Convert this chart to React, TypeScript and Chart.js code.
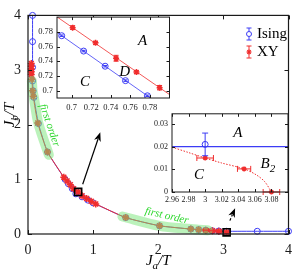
import React, { useEffect, useRef } from "react";
import { Chart, registerables } from "chart.js";

Chart.register(...registerables);

const SERIF = "'Liberation Serif', 'DejaVu Serif', serif";
const BLUE = "rgb(60,60,245)";
const RED = "rgb(240,45,45)";
const BAND = "rgba(120,230,120,0.5)";
const GREEN_TXT = "rgb(45,215,45)";
const INK = "#1a1a1a";

// ---------------- main panel data ----------------
const mainTicks = [0, 1, 2, 3, 4];

const isingJa = [0.07, 0.07, 0.07, 0.07, 0.08, 0.09, 0.16, 0.30, 0.57, 0.62, 0.68, 0.735, 0.83, 0.92, 1.00, 1.50, 2.02, 2.50, 2.62, 2.73, 2.83, 2.93, 3.05, 3.52, 4.00];
const isingJb = [4.00, 3.52, 3.05, 2.80, 2.62, 2.50, 2.02, 1.50, 1.00, 0.92, 0.83, 0.735, 0.68, 0.62, 0.57, 0.30, 0.15, 0.09, 0.08, 0.07, 0.06, 0.055, 0.05, 0.05, 0.05];

const xyJa = [0.05, 0.05, 0.05, 0.05, 0.05, 0.06, 0.07, 0.08, 0.15, 0.30, 0.55, 0.60, 0.65, 0.70, 0.77, 0.83, 0.90, 0.97, 1.04, 1.50, 2.02, 2.50, 2.62, 2.73, 2.83, 2.93, 3.05];
const xyJb = [3.12, 3.07, 3.02, 2.97, 2.92, 2.83, 2.62, 2.52, 2.03, 1.50, 1.04, 0.97, 0.90, 0.83, 0.77, 0.70, 0.65, 0.60, 0.55, 0.30, 0.15, 0.09, 0.08, 0.07, 0.06, 0.05, 0.03];
const xyErrX = [0, 0, 0, 0, 0, 0, 0, 0, 0, 0, 0, 0, 0, 0, 0, 0, 0, 0, 0, 0, 0, 0, 0, 0.04, 0.04, 0.04, 0];

const upperBandJa = [0.06, 0.07, 0.09, 0.16, 0.32];
const upperBandJb = [2.80, 2.62, 2.50, 2.02, 1.45];
const lowerBandJa = [1.45, 2.02, 2.50, 2.62, 2.76];
const lowerBandJb = [0.32, 0.15, 0.09, 0.08, 0.07];

const squareJa = [0.77, 3.05];
const squareJb = [0.77, 0.03];

// ---------------- inset 1 data ----------------
const in1Ticks = [0.7, 0.72, 0.74, 0.76, 0.78];
const in1IsingJa = [0.6898, 0.7122, 0.7342, 0.7550, 0.7774];
const in1IsingJb = [0.7747, 0.7538, 0.7332, 0.7136, 0.6930];
const in1IsingErr = [0.001, 0.001, 0.001, 0.001, 0.001];
const in1XyJa = [0.7010, 0.7244, 0.7454, 0.7662, 0.7899];
const in1XyJb = [0.7856, 0.7650, 0.7440, 0.7253, 0.7040];
const in1XyErr = [0.0025, 0.002, 0.004, 0.002, 0.003];
const in1IsingFitJa = [0.685, 0.80];
const in1IsingFitJb = [0.7792, 0.6719];
const in1XyFitJa = [0.685, 0.80];
const in1XyFitJb = [0.8003, 0.6947];

// ---------------- inset 2 data ----------------
const in2XTicks = [2.96, 2.98, 3.0, 3.02, 3.04, 3.06, 3.08];
const in2YTicks = [0, 0.01, 0.02, 0.03];
const in2IsingJa = [3.0];
const in2IsingJb = [0.021];
const in2IsingErr = [0.005];
const in2IsingLineJa = [2.96, 3.1];
const in2IsingLineJb = [0.02, 0.02];
const in2XyJa = [3.0, 3.047, 3.08];
const in2XyJb = [0.015, 0.0102, 0.0];
const in2XyErrX = [0.01, 0.008, 0.01];
const in2XyCurveJa = [2.96, 2.98, 3.0, 3.02, 3.047, 3.062, 3.072, 3.08];
const in2XyCurveJb = [0.0198, 0.0174, 0.015, 0.0128, 0.0102, 0.0075, 0.0045, 0.0];

// ---------------- helpers ----------------
const fmt = (v: number) => String(Number(Number(v).toFixed(2)));
const pts = (xs: number[], ys: number[]) => xs.map((x, i) => ({ x, y: ys[i] }));

function line(ctx: CanvasRenderingContext2D, x1: number, y1: number, x2: number, y2: number) {
  ctx.beginPath();
  ctx.moveTo(x1, y1);
  ctx.lineTo(x2, y2);
  ctx.stroke();
}

function drawStar(ctx: CanvasRenderingContext2D, x: number, y: number, r: number) {
  for (let k = 0; k < 4; k++) {
    const a = (k * Math.PI) / 4;
    line(ctx, x - r * Math.cos(a), y - r * Math.sin(a), x + r * Math.cos(a), y + r * Math.sin(a));
  }
}

function drawSub(ctx: CanvasRenderingContext2D, x: number, y: number, base: string, sub: string, rest: string, size: number, align: "center" | "left" = "center") {
  const f1 = `italic ${size}px ${SERIF}`;
  const f2 = `italic ${Math.round(size * 0.7)}px ${SERIF}`;
  ctx.font = f1;
  const w1 = ctx.measureText(base).width;
  const w3 = ctx.measureText(rest).width;
  ctx.font = f2;
  const w2 = ctx.measureText(sub).width;
  let cx = align === "center" ? x - (w1 + w2 + w3) / 2 : x;
  ctx.textAlign = "left";
  ctx.textBaseline = "alphabetic";
  ctx.font = f1;
  ctx.fillText(base, cx, y);
  cx += w1;
  ctx.font = f2;
  ctx.fillText(sub, cx, y + size * 0.25);
  cx += w2;
  ctx.font = f1;
  ctx.fillText(rest, cx, y);
}

function arrow(ctx: CanvasRenderingContext2D, x1: number, y1: number, x2: number, y2: number, dashed: boolean) {
  ctx.save();
  ctx.strokeStyle = "#000";
  ctx.fillStyle = "#000";
  ctx.lineWidth = 1.2;
  const ang = Math.atan2(y2 - y1, x2 - x1);
  const hl = 9, hw = 3.5;
  const bx = x2 - hl * Math.cos(ang), by = y2 - hl * Math.sin(ang);
  if (dashed) ctx.setLineDash([2.5, 2]);
  line(ctx, x1, y1, bx + 2 * Math.cos(ang), by + 2 * Math.sin(ang));
  ctx.setLineDash([]);
  ctx.beginPath();
  ctx.moveTo(x2, y2);
  ctx.lineTo(bx - hw * Math.sin(ang), by + hw * Math.cos(ang));
  ctx.lineTo(bx + 2.5 * Math.cos(ang), by + 2.5 * Math.sin(ang));
  ctx.lineTo(bx + hw * Math.sin(ang), by - hw * Math.cos(ang));
  ctx.closePath();
  ctx.fill();
  ctx.restore();
}

function errorBars(chart: any) {
  const ctx = chart.ctx as CanvasRenderingContext2D;
  const xs = chart.scales.x, ys = chart.scales.y;
  chart.data.datasets.forEach((ds: any) => {
    if (!ds.errX && !ds.errY) return;
    ctx.save();
    ctx.strokeStyle = ds.errColor;
    ctx.lineWidth = 1;
    const cap = ds.capSize ?? 2.5;
    ds.data.forEach((p: any, j: number) => {
      const px = xs.getPixelForValue(p.x), py = ys.getPixelForValue(p.y);
      if (ds.errY && ds.errY[j]) {
        const y1 = ys.getPixelForValue(p.y - ds.errY[j]);
        const y2 = ys.getPixelForValue(p.y + ds.errY[j]);
        line(ctx, px, y1, px, y2);
        line(ctx, px - cap, y1, px + cap, y1);
        line(ctx, px - cap, y2, px + cap, y2);
      }
      if (ds.errX && ds.errX[j]) {
        const x1 = xs.getPixelForValue(p.x - ds.errX[j]);
        const x2 = xs.getPixelForValue(p.x + ds.errX[j]);
        line(ctx, x1, py, x2, py);
        line(ctx, x1, py - cap, x1, py + cap);
        line(ctx, x2, py - cap, x2, py + cap);
      }
    });
    ctx.restore();
  });
}

function makePlugin(tickLen: number, lw: number, extra: (chart: any) => void, whiteBg: boolean) {
  return {
    id: "framePlugin",
    beforeDraw(chart: any) {
      if (!whiteBg) return;
      const { left, top, right, bottom } = chart.chartArea;
      const ctx = chart.ctx;
      ctx.save();
      ctx.fillStyle = "#fff";
      ctx.fillRect(left, top, right - left, bottom - top);
      ctx.restore();
    },
    afterDatasetsDraw(chart: any) {
      errorBars(chart);
      const ctx = chart.ctx as CanvasRenderingContext2D;
      const { left, top, right, bottom } = chart.chartArea;
      ctx.save();
      ctx.strokeStyle = INK;
      ctx.lineWidth = lw;
      ctx.strokeRect(left, top, right - left, bottom - top);
      ctx.lineWidth = 1;
      chart.scales.x.ticks.forEach((t: any) => {
        const px = Math.round(chart.scales.x.getPixelForValue(t.value)) + 0.5;
        line(ctx, px, bottom, px, bottom - tickLen);
        line(ctx, px, top, px, top + tickLen);
      });
      chart.scales.y.ticks.forEach((t: any) => {
        const py = Math.round(chart.scales.y.getPixelForValue(t.value)) + 0.5;
        line(ctx, left, py, left + tickLen, py);
        line(ctx, right, py, right - tickLen, py);
      });
      ctx.restore();
      ctx.save();
      extra(chart);
      ctx.restore();
    },
  };
}

function axis(min: number, max: number, ticks: number[], size: number, padding: number, dim: "w" | "h", dimVal: number) {
  return {
    type: "linear" as const,
    min,
    max,
    grid: { display: false, drawTicks: false },
    border: { display: false },
    afterBuildTicks: (s: any) => {
      s.ticks = ticks.map((v) => ({ value: v }));
    },
    afterFit: (s: any) => {
      if (dim === "w") s.width = dimVal;
      else s.height = dimVal;
    },
    ticks: {
      autoSkip: false,
      maxRotation: 0,
      padding,
      color: INK,
      font: { family: SERIF, size },
      callback: (v: any) => fmt(v),
    },
  };
}

// ---------------- configs ----------------
function mainConfig(): any {
  const extra = (chart: any) => {
    const ctx = chart.ctx as CanvasRenderingContext2D;
    const xs = chart.scales.x, ys = chart.scales.y;
    const P = (x: number, y: number) => [xs.getPixelForValue(x), ys.getPixelForValue(y)];
    // axis titles
    ctx.fillStyle = "#000";
    drawSub(ctx, (chart.chartArea.left + chart.chartArea.right) / 2, 265, "J", "a", "/T", 15);
    ctx.save();
    ctx.translate(14, 115);
    ctx.rotate(-Math.PI / 2);
    drawSub(ctx, 0, 0, "J", "b", "/T", 15);
    ctx.restore();
    // "first order" labels
    ctx.fillStyle = GREEN_TXT;
    ctx.font = `italic 11px ${SERIF}`;
    ctx.textAlign = "center";
    ctx.textBaseline = "middle";
    const [u1, u2] = P(0.33, 1.99);
    ctx.save();
    ctx.translate(u1, u2);
    ctx.rotate((71 * Math.PI) / 180);
    ctx.fillText("first order", 0, 0);
    ctx.restore();
    const [l1, l2] = P(2.13, 0.33);
    ctx.save();
    ctx.translate(l1, l2);
    ctx.rotate((13 * Math.PI) / 180);
    ctx.fillText("first order", 0, 0);
    ctx.restore();
    // arrows
    const [a1, a2] = P(0.84, 0.91);
    const [b1, b2] = P(1.11, 1.86);
    arrow(ctx, a1, a2, b1, b2, false);
    const [c1, c2] = P(3.1, 0.245);
    const [d1, d2] = P(3.18, 0.47);
    arrow(ctx, c1, c2, d1, d2, true);
    // legend
    ctx.lineWidth = 1;
    ctx.strokeStyle = BLUE;
    const lx = 249;
    line(ctx, lx, 28, lx, 40);
    line(ctx, lx - 2.5, 28, lx + 2.5, 28);
    line(ctx, lx - 2.5, 40, lx + 2.5, 40);
    ctx.fillStyle = "#fff";
    ctx.beginPath();
    ctx.arc(lx, 34, 2.5, 0, Math.PI * 2);
    ctx.fill();
    ctx.stroke();
    ctx.strokeStyle = RED;
    line(ctx, lx, 46, lx, 58);
    line(ctx, lx - 2.5, 46, lx + 2.5, 46);
    line(ctx, lx - 2.5, 58, lx + 2.5, 58);
    ctx.lineWidth = 1.2;
    drawStar(ctx, lx, 52, 2.5);
    ctx.fillStyle = "#000";
    ctx.font = `15px ${SERIF}`;
    ctx.textAlign = "left";
    ctx.textBaseline = "middle";
    ctx.fillText("Ising", 257, 34);
    ctx.fillText("XY", 257, 52);
  };
  return {
    type: "scatter",
    data: {
      datasets: [
        { data: pts(upperBandJa, upperBandJb), showLine: true, borderColor: BAND, borderWidth: 10, borderCapStyle: "round", pointRadius: 0, tension: 0.3, order: 0, clip: false },
        { data: pts(lowerBandJa, lowerBandJb), showLine: true, borderColor: BAND, borderWidth: 10, borderCapStyle: "round", pointRadius: 0, tension: 0.3, order: 0, clip: false },
        { data: pts(squareJa, squareJb), showLine: false, pointStyle: "rect", pointRadius: 5, pointBorderWidth: 1.6, pointBorderColor: "#000", pointBackgroundColor: "rgba(0,0,0,0)", order: 1, clip: false },
        { data: pts(xyJa, xyJb), showLine: true, borderColor: RED, borderWidth: 1, tension: 0.15, pointStyle: "star", pointRadius: 3.5, pointBorderWidth: 1.5, pointBorderColor: RED, pointBackgroundColor: RED, errX: xyErrX, errColor: RED, capSize: 2, order: 2, clip: false },
        { data: pts(isingJa, isingJb), showLine: true, borderColor: BLUE, borderWidth: 1, tension: 0.15, pointStyle: "circle", pointRadius: 3, pointBorderWidth: 1, pointBorderColor: BLUE, pointBackgroundColor: "rgba(0,0,0,0)", order: 3, clip: false },
      ],
    },
    options: {
      responsive: false,
      animation: false,
      events: [],
      layout: { padding: { top: 5, right: 5, left: 0, bottom: 0 } },
      plugins: { legend: { display: false }, tooltip: { enabled: false } },
      scales: {
        x: axis(0, 4, mainTicks, 14, 8, "h", 35),
        y: axis(0, 4, mainTicks, 14, 7, "w", 28),
      },
    },
    plugins: [makePlugin(4, 1.2, extra, false)],
  };
}

function letters(chart: any, items: [string, string, number, number][]) {
  const ctx = chart.ctx as CanvasRenderingContext2D;
  ctx.fillStyle = "#000";
  items.forEach(([b, s, x, y]) => {
    const px = chart.scales.x.getPixelForValue(x);
    const py = chart.scales.y.getPixelForValue(y);
    drawSub(ctx, px, py + 5, b, s, "", 15);
  });
}

function inset1Config(): any {
  return {
    type: "scatter",
    data: {
      datasets: [
        { data: pts(in1XyFitJa, in1XyFitJb), showLine: true, borderColor: RED, borderWidth: 0.8, pointRadius: 0, order: 3 },
        { data: pts(in1IsingFitJa, in1IsingFitJb), showLine: true, borderColor: BLUE, borderWidth: 0.8, pointRadius: 0, order: 3 },
        { data: pts(in1XyJa, in1XyJb), showLine: false, pointStyle: "star", pointRadius: 3, pointBorderWidth: 1.5, pointBorderColor: RED, pointBackgroundColor: RED, errY: in1XyErr, errColor: RED, capSize: 2.5, order: 1 },
        { data: pts(in1IsingJa, in1IsingJb), showLine: false, pointStyle: "circle", pointRadius: 3, pointBorderWidth: 1, pointBorderColor: BLUE, pointBackgroundColor: "rgba(0,0,0,0)", errY: in1IsingErr, errColor: BLUE, capSize: 2, order: 2 },
      ],
    },
    options: {
      responsive: false,
      animation: false,
      events: [],
      layout: { padding: { top: 6, right: 5, left: 0, bottom: 0 } },
      plugins: { legend: { display: false }, tooltip: { enabled: false } },
      scales: {
        x: axis(0.685, 0.8, in1Ticks, 8.5, 5, "h", 15),
        y: axis(0.69, 0.8, in1Ticks, 8.5, 4, "w", 27),
      },
    },
    plugins: [
      makePlugin(3, 1, (c: any) =>
        letters(c, [
          ["A", "", 0.7726, 0.7686],
          ["C", "", 0.7135, 0.7136],
          ["D", "", 0.7542, 0.7267],
        ]), true),
    ],
  };
}

function inset2Config(): any {
  return {
    type: "scatter",
    data: {
      datasets: [
        { data: pts(in2IsingLineJa, in2IsingLineJb), showLine: true, borderColor: BLUE, borderWidth: 1.3, pointRadius: 0, order: 4 },
        { data: pts(in2XyCurveJa, in2XyCurveJb), showLine: true, borderColor: RED, borderWidth: 1, borderDash: [1.5, 1.5], tension: 0.3, pointRadius: 0, order: 3 },
        { data: pts(in2XyJa, in2XyJb), showLine: false, pointStyle: "star", pointRadius: 2.5, pointBorderWidth: 1.5, pointBorderColor: RED, pointBackgroundColor: RED, errX: in2XyErrX, errColor: RED, capSize: 3, order: 1, clip: false },
        { data: pts(in2IsingJa, in2IsingJb), showLine: false, pointStyle: "circle", pointRadius: 3, pointBorderWidth: 1, pointBorderColor: BLUE, pointBackgroundColor: "rgba(0,0,0,0)", errY: in2IsingErr, errColor: BLUE, capSize: 3, order: 2 },
      ],
    },
    options: {
      responsive: false,
      animation: false,
      events: [],
      layout: { padding: { top: 6, right: 7, left: 0, bottom: 0 } },
      plugins: { legend: { display: false }, tooltip: { enabled: false } },
      scales: {
        x: axis(2.96, 3.1, in2XTicks, 8, 3, "h", 13),
        y: axis(0, 0.0345, in2YTicks, 8, 4, "w", 27),
      },
    },
    plugins: [
      makePlugin(3, 1, (c: any) =>
        letters(c, [
          ["A", "", 3.0396, 0.0264],
          ["C", "", 2.9926, 0.0081],
          ["B", "2", 3.0758, 0.0128],
        ]), true),
    ],
  };
}

export default function App() {
  const mainRef = useRef<HTMLCanvasElement>(null);
  const in1Ref = useRef<HTMLCanvasElement>(null);
  const in2Ref = useRef<HTMLCanvasElement>(null);

  useEffect(() => {
    document.body.style.margin = "0";
    const charts = [
      new Chart(mainRef.current as HTMLCanvasElement, mainConfig()),
      new Chart(in1Ref.current as HTMLCanvasElement, inset1Config()),
      new Chart(in2Ref.current as HTMLCanvasElement, inset2Config()),
    ];
    return () => charts.forEach((c) => c.destroy());
  }, []);

  return (
    <div style={{ position: "fixed", left: 0, top: 0, width: 300, height: 269, background: "#fff", overflow: "hidden" }}>
      <canvas ref={mainRef} width={300} height={269} style={{ position: "absolute", left: 0, top: 0 }} />
      <canvas ref={in1Ref} width={145} height={105} style={{ position: "absolute", left: 30, top: 8 }} />
      <canvas ref={in2Ref} width={150} height={100} style={{ position: "absolute", left: 145, top: 105 }} />
    </div>
  );
}
